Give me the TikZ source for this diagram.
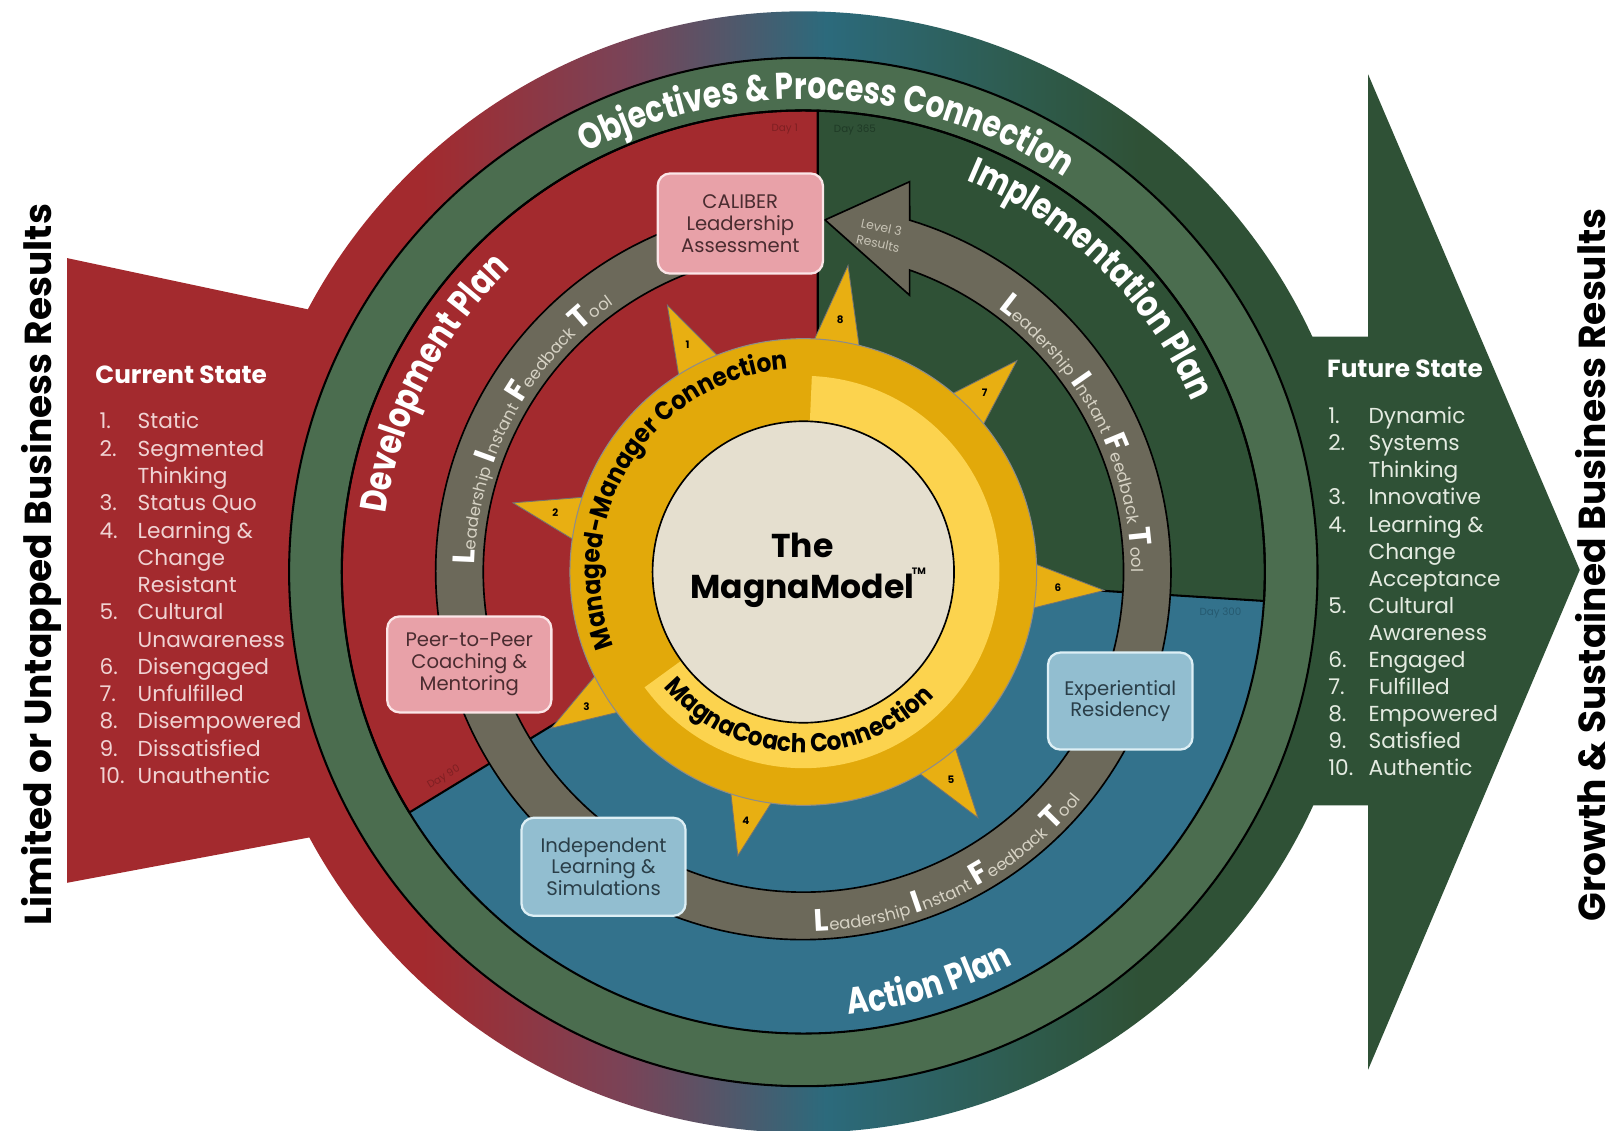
\documentclass[tikz,border=0pt]{standalone}
\usepackage{fontspec}
\setmainfont{Poppins}
\newfontfamily\condfont[FakeStretch=0.8]{Poppins}
\newfontfamily\semifont[FakeStretch=0.9]{Poppins}
\usetikzlibrary{decorations.text}
\definecolor{mred}{HTML}{A32A2E}
\definecolor{mmauve}{HTML}{7A4357}
\definecolor{mteal}{HTML}{2C6A7C}
\definecolor{mtgreen}{HTML}{2E5B4C}
\definecolor{mdgreen}{HTML}{2F5136}
\definecolor{objgreen}{HTML}{4B6D4F}
\definecolor{mblue}{HTML}{33728C}
\definecolor{liftgray}{HTML}{6C695A}
\definecolor{liftsmallc}{HTML}{D6D2C4}
\definecolor{gold}{HTML}{E2A90A}
\definecolor{raygold}{HTML}{E8AF12}
\definecolor{lightgold}{HTML}{FCD34E}
\definecolor{beige}{HTML}{E5DFCF}
\definecolor{pinkbox}{HTML}{E8A1A8}
\definecolor{pinkedge}{HTML}{FBE6E8}
\definecolor{pinktext}{HTML}{4A2C30}
\definecolor{bluebox}{HTML}{92BED0}
\definecolor{blueedge}{HTML}{DDEFF5}
\definecolor{bluetext}{HTML}{2A3E48}
\definecolor{listpink}{HTML}{F0D3D3}
\definecolor{listgreen}{HTML}{E4EBE1}
\definecolor{lvltext}{HTML}{C8C4B6}
\definecolor{dayred}{HTML}{7E1F22}
\definecolor{daygreen}{HTML}{1F3A26}
\definecolor{dayblue}{HTML}{265A70}
\pgfdeclarehorizontalshading{ringshade}{100bp}{color(0bp)=(mred); color(33bp)=(mred); color(42bp)=(mmauve); color(51bp)=(mteal); color(60bp)=(mtgreen); color(65bp)=(mdgreen); color(100bp)=(mdgreen)}
\newcommand\planfont{\condfont\bfseries\fontsize{18}{18}\selectfont\color{white}}
\newcommand\ringfont{\semifont\bfseries\fontsize{12.5}{12.5}\selectfont\color{black}}
\newcommand\liftbig{\bfseries\fontsize{15}{15}\selectfont\color{white}}
\newcommand\liftsmall{\mdseries\fontsize{8}{8}\selectfont\color{liftsmallc}}
\begin{document}
\begin{tikzpicture}[x=0.5pt,y=0.5pt,
  listl/.style={anchor=mid west, inner sep=0pt, text=listpink, font=\fontsize{10.5}{10.5}\selectfont},
  listr/.style={anchor=mid west, inner sep=0pt, text=listgreen, font=\fontsize{10.5}{10.5}\selectfont},
  headtxt/.style={anchor=mid west, inner sep=0pt, text=white, font=\bfseries\fontsize{12}{12}\selectfont},
  pinkb/.style={draw=pinkedge, fill=pinkbox, line width=1.1pt, rounded corners=6pt, align=center, text=pinktext, font=\fontsize{9.5}{10.5}\selectfont, inner sep=0pt},
  blueb/.style={draw=blueedge, fill=bluebox, line width=1.1pt, rounded corners=6pt, align=center, text=bluetext, font=\fontsize{9.5}{10.5}\selectfont, inner sep=0pt},
  raytri/.style={fill=raygold, draw=black!55, line width=0.4pt},
  raynum/.style={font=\bfseries\fontsize{5}{5}\selectfont, inner sep=0pt},
  daytxt/.style={font=\fontsize{5}{5}\selectfont, inner sep=0pt},
  sidetitle/.style={rotate=90, anchor=base, inner sep=0pt, font=\bfseries\fontsize{18.2}{18.2}\selectfont},
  sepline/.style={draw=black, line width=1pt}
]
\useasboundingbox (0,0) rectangle (1568,1095);
\fill[white] (0,0) rectangle (1568,1095);
% arrow tail and head
\fill[mred] (65,845) -- (300,795) -- (600,700) -- (600,380) -- (300,284) -- (65,240) -- cycle;
\fill[mdgreen] (1100,769) -- (1325,769) -- (1325,1023) -- (1530,543) -- (1325,59) -- (1325,315) -- (1100,315) -- cycle;
\coordinate (C) at (778,541);
\begin{scope}[shift={(778,541)}]
  % outer gradient ring
  \shade[shading=ringshade] (0,0) circle (543);
  \filldraw[fill=objgreen, sepline] (0,0) circle (498);
  % quadrants
  \fill[mblue] (0,0) circle (447);
  \filldraw[fill=mdgreen, sepline] (14,0) -- (14,446.78) arc[start angle=88.21, end angle=-3.6, radius=447] -- (0,0) -- cycle;
  \filldraw[fill=mred, sepline] (14,0) -- (14,446.78) arc[start angle=88.21, end angle=211.4, radius=447] -- (0,0) -- cycle;
  \draw[sepline] (0,0) circle (447);
  % LIFT ring arrow
  \filldraw[fill=liftgray, draw=black, line width=0.8pt] (100:356) arc[start angle=100, end angle=433.18, radius=356] -- (103,378) -- (21,341) -- (103,268) -- (103,292.4) arc[start angle=430.61, end angle=100, radius=310] -- cycle;
  % sun rays
  \foreach \a/\r in {117/290, 166.6/289, 211.8/287, 257/282, 305.4/292, 356.5/292, 44.7/291, 81.7/300}{
    \filldraw[raytri] ({\a-8.5}:200) -- (\a:\r) -- ({\a+8.5}:200) -- cycle;
  }
  % yellow disc
  \filldraw[fill=gold, draw=black!45, line width=0.5pt] (0,0) circle (226);
  \fill[lightgold] (87.5:190) arc[start angle=87.5, end angle=-144, radius=190] -- (-144:146) arc[start angle=-144, end angle=87.5, radius=146] -- cycle;
  \filldraw[fill=beige, draw=black, line width=0.8pt] (0,0) circle (146);
  % ray numbers
  \foreach \a/\n in {117/1, 166.6/2, 211.8/3, 257/4, 305.4/5, 356.5/6, 44.7/7, 81.7/8}{
    \node[raynum] (ray\n) at (\a:247) {\n};
  }
  % arc texts
  \path[decorate, decoration={text along path, text align=center, text={|\planfont|Objectives {\&} Process Connection}}] (150:458) arc[start angle=150, end angle=24, radius=458];
  \path[decorate, decoration={text along path, text align=center, text={|\planfont|Development Plan}}] (200:408) arc[start angle=200, end angle=106, radius=408];
  \path[decorate, decoration={text along path, text align=center, text={|\planfont|Implementation Plan}}] (95:411) arc[start angle=95, end angle=-4, radius=411];
  \path[decorate, decoration={text along path, text align=center, text={|\planfont|Action Plan}}] (-118:431) arc[start angle=-118, end angle=-28, radius=431];
  \path[decorate, decoration={text along path, text align=center, text={|\ringfont|Managed-Manager Connection}}] (225:197) arc[start angle=225, end angle=70.5, radius=197];
  \path[decorate, decoration={text along path, text align=center, text={|\ringfont|MagnaCoach Connection}}] (-168:175) arc[start angle=-168, end angle=-16, radius=175];
  \path[decorate, decoration={text along path, text align=center, text={|\liftbig|L|\liftsmall|eadership |\liftbig|I|\liftsmall|nstant |\liftbig|F|\liftsmall|eedback |\liftbig|T|\liftsmall|ool}}] (205:318) arc[start angle=205, end angle=99, radius=318];
  \path[decorate, decoration={text along path, text align=center, text={|\liftbig|L|\liftsmall|eadership |\liftbig|I|\liftsmall|nstant |\liftbig|F|\liftsmall|eedback |\liftbig|T|\liftsmall|ool}}] (80:318) arc[start angle=80, end angle=-26.6, radius=318];
  \path[decorate, decoration={text along path, text align=center, text={|\liftbig|L|\liftsmall|eadership |\liftbig|I|\liftsmall|nstant |\liftbig|F|\liftsmall|eedback |\liftbig|T|\liftsmall|ool}}] (-115:348) arc[start angle=-115, end angle=-12.4, radius=348];
\end{scope}
% boxes
\node[pinkb, minimum width=80pt, minimum height=48.5pt] (cal) at (717,878.5) {CALIBER\\Leadership\\Assessment};
\node[pinkb, minimum width=79.5pt, minimum height=46.5pt] (peer) at (454.5,451.5) {Peer-to-Peer\\Coaching \&\\Mentoring};
\node[blueb, minimum width=70pt, minimum height=47pt] (exp) at (1085,416) {Experiential\\Residency};
\node[blueb, minimum width=79.5pt, minimum height=47.5pt] (ind) at (584.5,255.5) {Independent\\Learning \&\\Simulations};
% small labels
\node[font=\fontsize{6}{8}\selectfont, text=lvltext, align=center, rotate=-12, inner sep=0pt] (lvl) at (852,867) {Level 3\\Results};
\node[daytxt, text=dayred] (d1) at (760,970) {Day 1};
\node[daytxt, text=daygreen] (d365) at (828,969) {Day 365};
\node[daytxt, text=dayred, rotate=31] (d90) at (430,342) {Day 90};
\node[daytxt, text=dayblue] (d300) at (1182,501) {Day 300};
% center
\node[font=\bfseries\fontsize{16}{16}\selectfont, inner sep=0pt] (the) at (777,567) {The};
\node[font=\bfseries\fontsize{16}{16}\selectfont, inner sep=0pt] (mm) at (777,523) {MagnaModel};
\node[font=\bfseries\fontsize{4.5}{5}\selectfont, inner sep=0pt] (tm) at (890,542) {TM};
% side titles
\node[sidetitle] (ltitle) at (50,548) {Limited or Untapped Business Results};
\node[sidetitle] (rtitle) at (1555,548) {Growth \& Sustained Business Results};
% lists
\node[headtxt] (cs) at (92,729) {Current State};
\foreach \t [count=\i from 0] in {Static, Segmented, Thinking, Status Quo, {Learning \&}, Change, Resistant, Cultural, Unawareness, Disengaged, Unfulfilled, Disempowered, Dissatisfied, Unauthentic}{
  \node[listl] (lt\i) at (133,685-26.4*\i) {\t};
}
\foreach \n/\i in {1./0, 2./1, 3./3, 4./4, 5./7, 6./9, 7./10, 8./11, 9./12, 10./13}{
  \node[listl] (ln\i) at (96,685-26.4*\i) {\n};
}
\node[headtxt] (fs) at (1285,735) {Future State};
\foreach \t [count=\i from 0] in {Dynamic, Systems, Thinking, Innovative, {Learning \&}, Change, Acceptance, Cultural, Awareness, Engaged, Fulfilled, Empowered, Satisfied, Authentic}{
  \node[listr] (rt\i) at (1325,690-26.2*\i) {\t};
}
\foreach \n/\i in {1./0, 2./1, 3./3, 4./4, 5./7, 6./9, 7./10, 8./11, 9./12, 10./13}{
  \node[listr] (rn\i) at (1286,690-26.2*\i) {\n};
}
\end{tikzpicture}
\end{document}
